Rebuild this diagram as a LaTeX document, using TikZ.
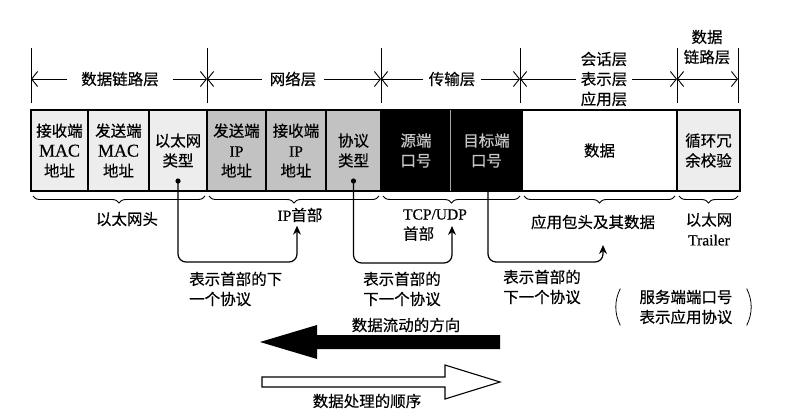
\documentclass[tikz,border=0pt]{standalone}
\usepackage{fontspec}
\setmainfont{Noto Sans CJK SC}[FakeBold=0.4]
\newfontfamily\lat{Liberation Serif}[FakeBold=0.4]
\usetikzlibrary{positioning,arrows.meta,decorations.pathreplacing}

\begin{document}
\begin{tikzpicture}[x=1pt,y=-1pt,font=\fontsize{15.5}{20}\selectfont,
  fld/.style={draw,line width=1.2pt,outer sep=0pt,inner sep=0pt,minimum height=81pt,align=center},
  pale/.style={fill=gray!14},
  mid/.style={fill=gray!48},
  dark/.style={fill=black,text=gray!45},
  lay/.style={line width=0.9pt,-{Straight Barb[length=6pt,width=15pt]}},
  laytwo/.style={line width=0.9pt,{Straight Barb[length=6pt,width=15pt]}-{Straight Barb[length=6pt,width=15pt]}},
  brc/.style={decorate,decoration={brace,mirror,amplitude=7pt},line width=0.9pt},
  nxt/.style={line width=1.2pt,rounded corners=8pt,-{Stealth[length=9pt,width=8pt]}},
  note/.style={align=left,anchor=west,inner sep=2pt}]
\useasboundingbox (0,0) rectangle (792,418);

\foreach \i/\x in {0/31,1/207,2/381,3/520,4/677,5/738}
  {\draw[line width=0.9pt] (\x,48) -- (\x,103); \coordinate (b\i) at (\x,79);}
\node[inner xsep=14pt] (dll) at (120,79) {数据链路层};
\draw[lay] (dll) -- (b0);
\draw[lay] (dll) -- (b1);
\node[inner xsep=8pt] (net) at (293,79) {网络层};
\draw[lay] (net) -- (b1);
\draw[lay] (net) -- (b2);
\node[inner xsep=6pt] (trans) at (452,79) {传输层};
\draw[lay] (trans) -- (b2);
\draw[lay] (trans) -- (b3);
\node[inner xsep=5pt,align=center] (sess) at (604,79) {会话层\\表示层\\应用层};
\draw[lay] (sess) -- (b3);
\draw[lay] (sess) -- (b4);
\node[align=center] (dlltwo) at (707,47) {数据\\链路层};
\draw[laytwo] (b4) -- (b5);

\node[fld,pale,minimum width=57pt,anchor=north west] (dstmac) at (31,110) {接收端\\{\lat\fontsize{18}{20}\selectfont MAC}\\地址};
\node[fld,pale,minimum width=61pt,right=0pt of dstmac] (srcmac) {发送端\\{\lat\fontsize{18}{20}\selectfont MAC}\\地址};
\node[fld,pale,minimum width=58pt,right=0pt of srcmac] (ethtype) {以太网\\类型};
\node[fld,mid,minimum width=59pt,right=0pt of ethtype] (srcip) {发送端\\{\lat IP}\\地址};
\node[fld,mid,minimum width=60pt,right=0pt of srcip] (dstip) {接收端\\{\lat IP}\\地址};
\node[fld,mid,minimum width=55pt,right=0pt of dstip] (proto) {协议\\类型};
\node[fld,dark,minimum width=70pt,right=0pt of proto] (sport) {源端\\口号};
\node[fld,dark,minimum width=71pt,right=0pt of sport] (dport) {目标端\\口号};
\node[fld,fill=white,minimum width=155pt,right=0pt of dport] (data) {数据};
\node[fld,pale,minimum width=63pt,right=0pt of data] (crc) {循环冗\\余校验};
\draw[line width=0.6pt,gray!70] ([xshift=-0.6pt]sport.north east) -- ([xshift=-0.6pt]sport.south east);

\coordinate (d1) at ([yshift=10pt]ethtype.south);
\coordinate (d2) at ([yshift=10pt]proto.south);
\fill (d1) circle (2.6);
\fill (d2) circle (2.6);

\draw[brc] ([xshift=2pt,yshift=-5pt]dstmac.south west) -- ([xshift=-2pt,yshift=-5pt]ethtype.south east);
\draw[brc] ([xshift=2pt,yshift=-5pt]srcip.south west) -- ([xshift=-2pt,yshift=-5pt]proto.south east);
\draw[brc] ([xshift=2pt,yshift=-5pt]sport.south west) -- ([xshift=-2pt,yshift=-5pt]dport.south east);
\draw[brc] ([xshift=2pt,yshift=-5pt]data.south west) -- ([xshift=-2pt,yshift=-5pt]data.south east);
\draw[brc] ([xshift=2pt,yshift=-5pt]crc.south west) -- ([xshift=-2pt,yshift=-5pt]crc.south east);

\node (ethhdr) at (127,219) {以太网头};
\node (iphdr) at (300,215) {{\lat IP}首部};
\node[align=left] (tcphdr) at (435,225) {{\lat TCP/UDP}\\首部};
\node (apphdr) at (593,222) {应用包头及其数据};
\node[align=center] (ethtrl) at (709,229) {以太网\\{\lat Trailer}};
\coordinate (tcptip) at (452,226);
\coordinate (apptip) at (603,245);

\draw[nxt] (d1) -- ++(0,81) -| ([xshift=-3pt]iphdr.south);
\draw[nxt] (d2) -- ++(0,82) -| (tcptip);
\draw[nxt] ([xshift=1.5pt]dport.south) -- ++(0,71) -| (apptip);

\node[note] (nxone) at (187,289) {表示首部的下\\一个协议};
\node[note] (nxtwo) at (361,289) {表示首部的\\下一个协议};
\node[note] (nxthree) at (501,287) {表示首部的\\下一个协议};

\node[align=center,inner sep=1pt] (svc) at (686,307) {服务端端口号\\表示应用协议};
\draw[line width=0.8pt] ([xshift=-18pt]svc.north west) .. controls +(-6,12) and +(-6,-12) .. ([xshift=-18pt]svc.south west);
\draw[line width=0.8pt] ([xshift=13pt]svc.north east) .. controls +(6,12) and +(6,-12) .. ([xshift=13pt]svc.south east);

\node (flowlbl) at (406,325) {数据流动的方向};
\fill (500,335) -- (317,335) -- (317,325) -- (260,342) -- (317,359) -- (317,349) -- (500,349) -- cycle;
\draw[line width=1.1pt,fill=white] (262,377) -- (445,377) -- (445,365) -- (500,382) -- (445,399) -- (445,387) -- (262,387) -- cycle;
\node (proclbl) at (367,401) {数据处理的顺序};
\end{tikzpicture}
\end{document}
